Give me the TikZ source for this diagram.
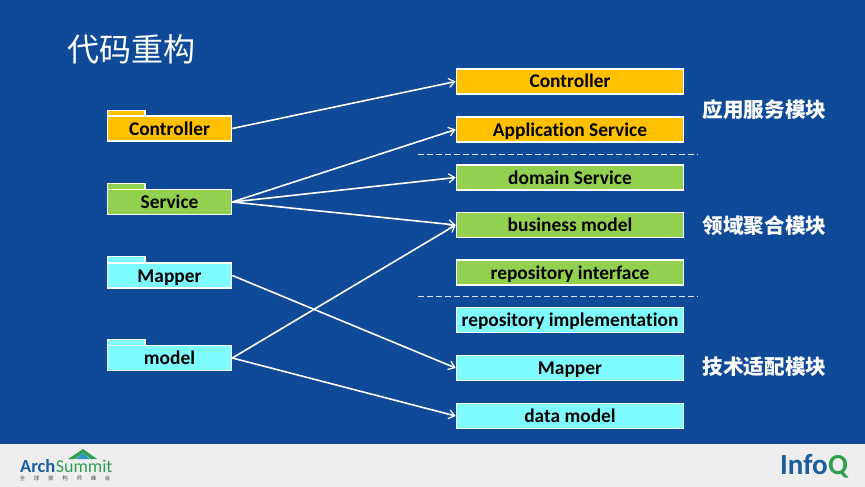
\documentclass[tikz,border=0pt]{standalone}
\usepackage{fontspec}
\setmainfont{Carlito}[Ligatures=NoCommon]
\newfontfamily\cjk{Noto Sans CJK SC}
\usetikzlibrary{arrows.meta}
\definecolor{bgblue}{HTML}{0F4A99}
\definecolor{amber}{HTML}{FFC000}
\definecolor{leaf}{HTML}{92D050}
\definecolor{aqua}{HTML}{7DFBFF}
\definecolor{foot}{HTML}{EEEEEE}
\definecolor{logoblue}{HTML}{1B5E9E}
\definecolor{logogreen}{HTML}{2F9E4F}
\tikzset{
 rbox/.style={draw=white,line width=1.6pt,minimum width=227pt,minimum height=25pt,inner sep=0pt,text height=14.5pt,text depth=1.5pt,font=\fontsize{19.4}{21}\selectfont\bfseries,text=black},
 lbox/.style={draw=white,line width=1.6pt,minimum width=124pt,minimum height=25pt,inner sep=0pt,text height=14.5pt,text depth=1.5pt,font=\fontsize{19.4}{21}\selectfont\bfseries,text=black},
 ftab/.style={draw=white,line width=1.6pt},
 link/.style={draw=white,line width=1.6pt,-{Straight Barb[length=6pt,width=9pt,line width=1.2pt]}},
 sep/.style={draw=white!85!bgblue,line width=0.8pt,dash pattern=on 6pt off 3pt},
 zone/.style={text=white,font=\cjk\fontsize{20.6}{22}\selectfont\bfseries,inner sep=0pt},
}
\begin{document}
\begin{tikzpicture}[x=1pt,y=-1pt]
\useasboundingbox (0,0) rectangle (865,487);
\fill[bgblue] (0,0) rectangle (865,444);
\fill[foot] (0,444) rectangle (865,487);
\node[text=white,font=\cjk\fontsize{32}{36}\selectfont,inner sep=0pt] (title) at (131.5,49) {代码重构};

% folders
\filldraw[ftab,fill=amber] (107.5,110.5) rectangle (145,117);
\filldraw[ftab,fill=leaf] (107.5,183.5) rectangle (145,190);
\filldraw[ftab,fill=aqua] (107.5,256.5) rectangle (145,263);
\filldraw[ftab,fill=aqua] (107.5,339.5) rectangle (145,346);
\node[lbox,fill=amber] (lc) at (169.5,128.5) {Controller};
\node[lbox,fill=leaf] (ls) at (169.5,202) {Service};
\node[lbox,fill=aqua] (lm) at (169.5,275.5) {Mapper};
\node[lbox,fill=aqua] (lo) at (169.5,358) {model};

% right boxes
\node[rbox,fill=amber] (rc) at (570,81.5) {Controller};
\node[rbox,fill=amber] (ra) at (570,129.5) {Application Service};
\node[rbox,fill=leaf] (rd) at (570,177.5) {domain Service};
\node[rbox,fill=leaf] (rb) at (570,225) {business model};
\node[rbox,fill=leaf] (rr) at (570,272.5) {repository interface};
\node[rbox,fill=aqua] (ri) at (570,320) {repository implementation};
\node[rbox,fill=aqua] (rm) at (570,368) {Mapper};
\node[rbox,fill=aqua] (rdm) at (570,416) {data model};

% connectors
\draw[link] (lc.east) -- (rc.west);
\draw[link] (ls.east) -- (ra.west);
\draw[link] (ls.east) -- (rd.west);
\draw[link] (ls.east) -- (rb.west);
\draw[link] (lm.east) -- (rm.west);
\draw[link] (lo.east) -- (rb.west);
\draw[link] (lo.east) -- (rdm.west);

% separators
\coordinate (s1a) at (418,154.5);
\coordinate (s1b) at (698,154.5);
\coordinate (s2a) at (418,296.5);
\coordinate (s2b) at (698,296.5);
\draw[sep] (s1a) -- (s1b);
\draw[sep] (s2a) -- (s2b);

% zone labels
\node[zone] (z1) at (764.5,109.5) {应用服务模块};
\node[zone] (z2) at (764.5,226) {领域聚合模块};
\node[zone] (z3) at (764.5,367) {技术适配模块};

% ArchSummit logo
\fill[logogreen] (68,459) -- (83,449) -- (97,459) -- (91,459) -- (83,453) -- (75,459) -- cycle;
\fill[cyan!60!logoblue] (76,459) -- (83,453) -- (90,459) -- cycle;
\node[anchor=base west,inner sep=0pt,font=\fontsize{18.5}{20}\selectfont\bfseries,text=logoblue] (la) at (20,472) {Arch};
\node[anchor=base west,inner sep=0pt,font=\fontsize{18}{20}\selectfont,text=logogreen] (lb) at (la.base east) {Summit};
\foreach \ch [count=\i from 0] in {全,球,架,构,师,峰,会}
  \node[inner sep=0pt,font=\cjk\fontsize{5.5}{6}\selectfont,text=black!70] (lz\i) at ({22.5+\i*14.2},478) {\ch};

% InfoQ logo
\node[anchor=base west,inner sep=0pt,font=\fontsize{29}{30}\selectfont\bfseries,text=logoblue] (ia) at (780,474) {Info};
\node[anchor=base west,inner sep=0pt,font=\fontsize{29}{30}\selectfont\bfseries,text=logogreen] (ib) at (ia.base east) {Q};
\end{tikzpicture}
\end{document}
